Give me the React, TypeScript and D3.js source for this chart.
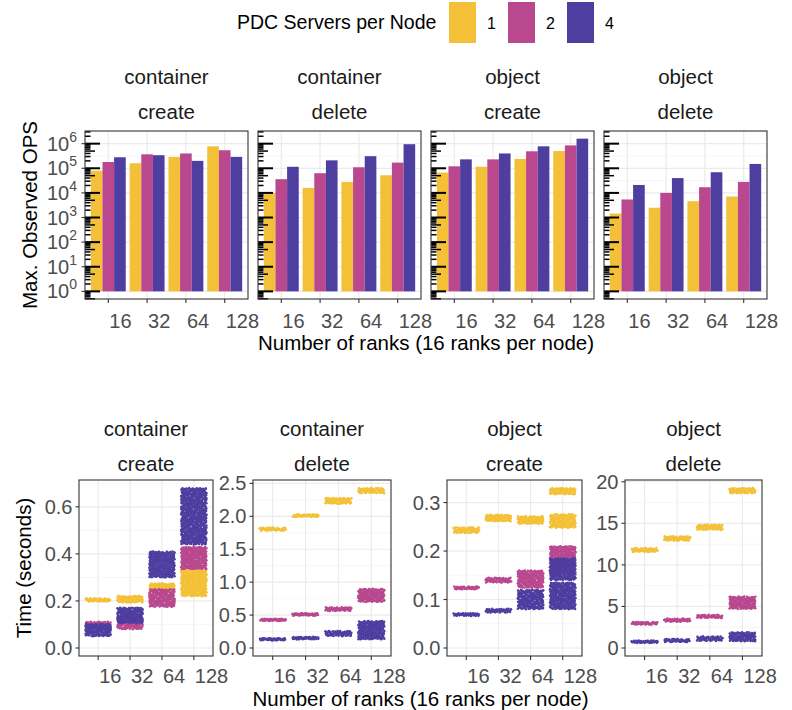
import React, { useEffect, useRef } from 'react';
import * as d3 from 'd3';

// categories
const ranks = ['16', '32', '64', '128'];
const servers = ['1', '2', '4'];
const serverColors = ['#F4C037', '#B9488F', '#4E3EA0'];
const opTypes = ['container', 'container', 'object', 'object'];
const opNames = ['create', 'delete', 'create', 'delete'];

// max observed OPS, one row per rank count, columns = servers per node (1, 2, 4)
const opsContainerCreate = [[8e4, 1.8e5, 2.8e5], [1.6e5, 3.7e5, 3.4e5], [2.9e5, 4.0e5, 2.0e5], [7.8e5, 5.4e5, 2.9e5]];
const opsContainerDelete = [[1.0e4, 3.6e4, 1.15e5], [1.6e4, 6.3e4, 2.1e5], [2.8e4, 1.1e5, 3.1e5], [5.2e4, 1.7e5, 9.5e5]];
const opsObjectCreate = [[6.7e4, 1.2e5, 2.3e5], [1.15e5, 2.3e5, 4.0e5], [2.4e5, 4.9e5, 7.8e5], [5.0e5, 8.5e5, 1.6e6]];
const opsObjectDelete = [[1.45e3, 5.4e3, 2.1e4], [2.5e3, 1.0e4, 4.0e4], [4.6e3, 1.7e4, 6.9e4], [7.1e3, 2.8e4, 1.5e5]];
const opsPanels = [opsContainerCreate, opsContainerDelete, opsObjectCreate, opsObjectDelete];
const logTicks = [0, 1, 2, 3, 4, 5, 6];

// per-op time observations: extent of each cloud of points [low, high] in seconds
// one row per rank count, columns = servers per node (1, 2, 4), each a list of bands
const timeContainerCreate = [
  [[[0.197, 0.212]], [[0.08, 0.112]], [[0.05, 0.102]]],
  [[[0.193, 0.222]], [[0.08, 0.135]], [[0.105, 0.172]]],
  [[[0.245, 0.275]], [[0.175, 0.25]], [[0.3, 0.41]]],
  [[[0.22, 0.335]], [[0.335, 0.43]], [[0.44, 0.68]]],
];
const timeContainerDelete = [
  [[[1.78, 1.83]], [[0.41, 0.445]], [[0.115, 0.15]]],
  [[[1.99, 2.03]], [[0.49, 0.53]], [[0.13, 0.17]]],
  [[[2.19, 2.28]], [[0.56, 0.62]], [[0.18, 0.26]]],
  [[[2.35, 2.43]], [[0.7, 0.9]], [[0.13, 0.41]]],
];
const timeObjectCreate = [
  [[[0.237, 0.249]], [[0.121, 0.127]], [[0.066, 0.072]]],
  [[[0.261, 0.275]], [[0.135, 0.145]], [[0.073, 0.081]]],
  [[[0.256, 0.272]], [[0.124, 0.16]], [[0.08, 0.12]]],
  [[[0.248, 0.276], [0.317, 0.33]], [[0.155, 0.21]], [[0.08, 0.135], [0.14, 0.185]]],
];
const timeObjectDelete = [
  [[[11.55, 12.05]], [[2.8, 3.15]], [[0.6, 0.9]]],
  [[[12.9, 13.45]], [[3.15, 3.55]], [[0.7, 1.1]]],
  [[[14.2, 14.85]], [[3.6, 4.0]], [[0.85, 1.4]]],
  [[[18.6, 19.25]], [[4.7, 6.2]], [[0.8, 1.9]]],
];
const timePanels = [timeContainerCreate, timeContainerDelete, timeObjectCreate, timeObjectDelete];
const timeTicks = [[0, 0.2, 0.4, 0.6], [0, 0.5, 1, 1.5, 2, 2.5], [0, 0.1, 0.2, 0.3], [0, 5, 10, 15, 20]];
const timeTickFormats = ['.1f', '.1f', '.1f', 'd'];

const FONT = '"Liberation Sans", Arial, Helvetica, sans-serif';
const GRID = '#EBEBEB';
const FRAME = '#333333';
const TICKTEXT = '#4D4D4D';
const TICK_SIZE = 20;
const STRIP_SIZE = 20.5;
const TITLE_SIZE = 20.5;

// low-discrepancy sequence used only to place jittered points inside a cloud
const halton = (i: number, b: number) => {
  let f = 1, r = 0;
  while (i > 0) {
    f /= b;
    r += f * (i % b);
    i = Math.floor(i / b);
  }
  return r;
};

const App: React.FC = () => {
  const svgRef = useRef<SVGSVGElement>(null);

  useEffect(() => {
    if (!svgRef.current) return;
    const svg = d3.select(svgRef.current);
    svg.selectAll('*').remove();
    svg.append('rect').attr('width', 792).attr('height', 710).attr('fill', '#fff');

    // ---------- legend ----------
    const legend = svg.append('g').attr('font-family', FONT);
    legend.append('text').attr('x', 237).attr('y', 29).attr('font-size', 19.5).attr('fill', '#000')
      .text('PDC Servers per Node');
    servers.forEach((s, i) => {
      const kx = 449 + i * 59;
      legend.append('rect').attr('x', kx).attr('y', 2).attr('width', 27).attr('height', 41)
        .attr('fill', serverColors[i]);
      legend.append('text').attr('x', kx + 38).attr('y', 29).attr('font-size', 16).attr('fill', '#000').text(s);
    });

    // ---------- top row: bar charts on log scale ----------
    const topTop = 131, topBottom = 299;
    const topLefts = [85, 258, 431, 604];
    const topW = 163;
    const allOps = opsPanels.flat(2);
    const maxLog = Math.log10(d3.max(allOps) as number);
    const span = maxLog;
    const yLog = d3.scaleLog()
      .domain([Math.pow(10, -0.05 * span), Math.pow(10, maxLog + 0.05 * span)])
      .range([topBottom, topTop]);

    opsPanels.forEach((ops, p) => {
      const left = topLefts[p];
      const g = svg.append('g');
      const x = d3.scaleBand().domain(ranks).range([left, left + topW]).paddingInner(0).paddingOuter(0.1);
      const step = x.step();
      const xs = d3.scaleBand().domain(servers).range([-0.45 * step, 0.45 * step]);

      // grid
      const [dLo, dHi] = yLog.domain().map(Math.log10);
      for (let m = Math.ceil(dLo * 2) / 2; m <= dHi; m += 0.5) {
        const isMajor = Math.abs(m - Math.round(m)) < 1e-6;
        g.append('line').attr('x1', left).attr('x2', left + topW)
          .attr('y1', yLog(Math.pow(10, m))).attr('y2', yLog(Math.pow(10, m)))
          .attr('stroke', isMajor ? GRID : '#F3F3F3').attr('stroke-width', isMajor ? 1.2 : 0.7);
      }
      ranks.forEach(r => {
        const cx = (x(r) as number) + step / 2;
        g.append('line').attr('x1', cx).attr('x2', cx).attr('y1', topTop).attr('y2', topBottom)
          .attr('stroke', GRID).attr('stroke-width', 1.2);
      });

      // bars
      ranks.forEach((r, ri) => {
        const cx = (x(r) as number) + step / 2;
        servers.forEach((s, si) => {
          const v = ops[ri][si];
          g.append('rect')
            .attr('x', cx + (xs(s) as number))
            .attr('width', xs.bandwidth())
            .attr('y', yLog(v))
            .attr('height', yLog(1) - yLog(v))
            .attr('fill', serverColors[si]);
        });
      });

      // log ticks inside the panel (left side)
      for (let k = -1; k <= 7; k++) {
        for (let m = 1; m <= 9; m++) {
          const lv = k + Math.log10(m);
          if (lv < dLo || lv > dHi) continue;
          const len = m === 1 ? 15 : m === 5 ? 10 : 5.5;
          const yy = yLog(Math.pow(10, lv));
          g.append('line').attr('x1', left).attr('x2', left + len).attr('y1', yy).attr('y2', yy)
            .attr('stroke', '#000').attr('stroke-width', m === 1 ? 2 : 1.5);
        }
      }

      // frame
      g.append('rect').attr('x', left).attr('y', topTop).attr('width', topW).attr('height', topBottom - topTop)
        .attr('fill', 'none').attr('stroke', FRAME).attr('stroke-width', 1.1);

      // x ticks + labels
      ranks.forEach(r => {
        const cx = (x(r) as number) + step / 2;
        g.append('line').attr('x1', cx).attr('x2', cx).attr('y1', topBottom).attr('y2', topBottom + 4)
          .attr('stroke', FRAME).attr('stroke-width', 1.1);
        g.append('text').attr('x', cx + 1).attr('y', topBottom + 29).attr('font-family', FONT)
          .attr('font-size', TICK_SIZE).attr('fill', TICKTEXT).text(r);
      });

      // strip
      g.append('text').attr('x', left + topW / 2).attr('y', 84).attr('text-anchor', 'middle')
        .attr('font-family', FONT).attr('font-size', STRIP_SIZE).attr('fill', '#1A1A1A').text(opTypes[p]);
      g.append('text').attr('x', left + topW / 2).attr('y', 119).attr('text-anchor', 'middle')
        .attr('font-family', FONT).attr('font-size', STRIP_SIZE).attr('fill', '#1A1A1A').text(opNames[p]);

      // y axis (only first panel)
      if (p === 0) {
        logTicks.forEach(t => {
          const yy = yLog(Math.pow(10, t));
          g.append('line').attr('x1', left - 3.5).attr('x2', left).attr('y1', yy).attr('y2', yy)
            .attr('stroke', FRAME).attr('stroke-width', 1.1);
          const tx = g.append('text').attr('x', left - 8).attr('y', yy + 7).attr('text-anchor', 'end')
            .attr('font-family', FONT).attr('font-size', TICK_SIZE).attr('fill', TICKTEXT);
          tx.append('tspan').text('10');
          tx.append('tspan').attr('font-size', 14).attr('dy', -9).text(String(t));
        });
      }
    });

    svg.append('text').attr('transform', `translate(37,${(topTop + topBottom) / 2}) rotate(-90)`)
      .attr('text-anchor', 'middle').attr('font-family', FONT).attr('font-size', TITLE_SIZE).attr('fill', '#000')
      .text('Max. Observed OPS');
    svg.append('text').attr('x', (85 + 767) / 2).attr('y', 350).attr('text-anchor', 'middle')
      .attr('font-family', FONT).attr('font-size', TITLE_SIZE).attr('fill', '#000')
      .text('Number of ranks (16 ranks per node)');

    // ---------- bottom row: jittered time points ----------
    const botTop = 480, botBottom = 656;
    const botLefts = [79, 253, 447, 625];
    const botRights = [213, 391, 582, 762];

    timePanels.forEach((cells, p) => {
      const left = botLefts[p], right = botRights[p];
      const g = svg.append('g');
      const x = d3.scaleBand().domain(ranks).range([left, right]).paddingInner(0).paddingOuter(0.1);
      const step = x.step();
      const maxV = d3.max(cells.flat(3)) as number;
      const y = d3.scaleLinear().domain([-0.05 * maxV, 1.05 * maxV]).range([botBottom, botTop]);
      const ticks = timeTicks[p];

      // grid
      const dt = ticks[1] - ticks[0];
      const [dLo, dHi] = y.domain();
      for (let v = Math.ceil(dLo / (dt / 2)) * (dt / 2); v <= dHi; v += dt / 2) {
        const isMajor = Math.abs(v / dt - Math.round(v / dt)) < 1e-6;
        g.append('line').attr('x1', left).attr('x2', right).attr('y1', y(v)).attr('y2', y(v))
          .attr('stroke', isMajor ? GRID : '#F3F3F3').attr('stroke-width', isMajor ? 1.2 : 0.7);
      }
      ranks.forEach(r => {
        const cx = (x(r) as number) + step / 2;
        g.append('line').attr('x1', cx).attr('x2', cx).attr('y1', botTop).attr('y2', botBottom)
          .attr('stroke', GRID).attr('stroke-width', 1.2);
      });

      // points, drawn series by series
      let seed = 1 + p * 997;
      servers.forEach((s, si) => {
        ranks.forEach((r, ri) => {
          const cx = (x(r) as number) + step / 2;
          const halfW = 0.4 * step;
          cells[ri][si].forEach(([lo, hi]) => {
            const hpx = Math.max(2, y(lo) - y(hi));
            const n = Math.max(45, Math.round(2 * halfW * hpx * 0.5));
            const pts = d3.range(n).map(i => ({
              px: cx - halfW + 2 * halfW * halton(seed + i, 2),
              py: y(lo) - hpx * halton(seed + i, 3),
            }));
            seed += n;
            g.selectAll(null).data(pts).enter().append('circle')
              .attr('cx', d => d.px).attr('cy', d => d.py).attr('r', 1.25)
              .attr('fill', serverColors[si]);
          });
        });
      });

      // frame
      g.append('rect').attr('x', left).attr('y', botTop).attr('width', right - left).attr('height', botBottom - botTop)
        .attr('fill', 'none').attr('stroke', FRAME).attr('stroke-width', 1.1);

      // y axis
      const fmt = d3.format(timeTickFormats[p]);
      ticks.forEach(t => {
        g.append('line').attr('x1', left - 3.5).attr('x2', left).attr('y1', y(t)).attr('y2', y(t))
          .attr('stroke', FRAME).attr('stroke-width', 1.1);
        g.append('text').attr('x', left - 6.5).attr('y', y(t) + 7).attr('text-anchor', 'end')
          .attr('font-family', FONT).attr('font-size', TICK_SIZE).attr('fill', TICKTEXT).text(fmt(t));
      });

      // x axis
      ranks.forEach(r => {
        const cx = (x(r) as number) + step / 2;
        g.append('line').attr('x1', cx).attr('x2', cx).attr('y1', botBottom).attr('y2', botBottom + 4)
          .attr('stroke', FRAME).attr('stroke-width', 1.1);
        g.append('text').attr('x', cx + 1).attr('y', botBottom + 26.5).attr('font-family', FONT)
          .attr('font-size', TICK_SIZE).attr('fill', TICKTEXT).text(r);
      });

      // strip
      const mid = (left + right) / 2;
      g.append('text').attr('x', mid).attr('y', 436).attr('text-anchor', 'middle')
        .attr('font-family', FONT).attr('font-size', STRIP_SIZE).attr('fill', '#1A1A1A').text(opTypes[p]);
      g.append('text').attr('x', mid).attr('y', 471).attr('text-anchor', 'middle')
        .attr('font-family', FONT).attr('font-size', STRIP_SIZE).attr('fill', '#1A1A1A').text(opNames[p]);
    });

    svg.append('text').attr('transform', `translate(31,${(botTop + botBottom) / 2}) rotate(-90)`)
      .attr('text-anchor', 'middle').attr('font-family', FONT).attr('font-size', TITLE_SIZE).attr('fill', '#000')
      .text('Time (seconds)');
    svg.append('text').attr('x', (79 + 762) / 2).attr('y', 705.5).attr('text-anchor', 'middle')
      .attr('font-family', FONT).attr('font-size', TITLE_SIZE).attr('fill', '#000')
      .text('Number of ranks (16 ranks per node)');
  }, []);

  return (
    <svg
      ref={svgRef}
      width={792}
      height={710}
      style={{ position: 'absolute', left: 0, top: 0 }}
    />
  );
};

export default App;
